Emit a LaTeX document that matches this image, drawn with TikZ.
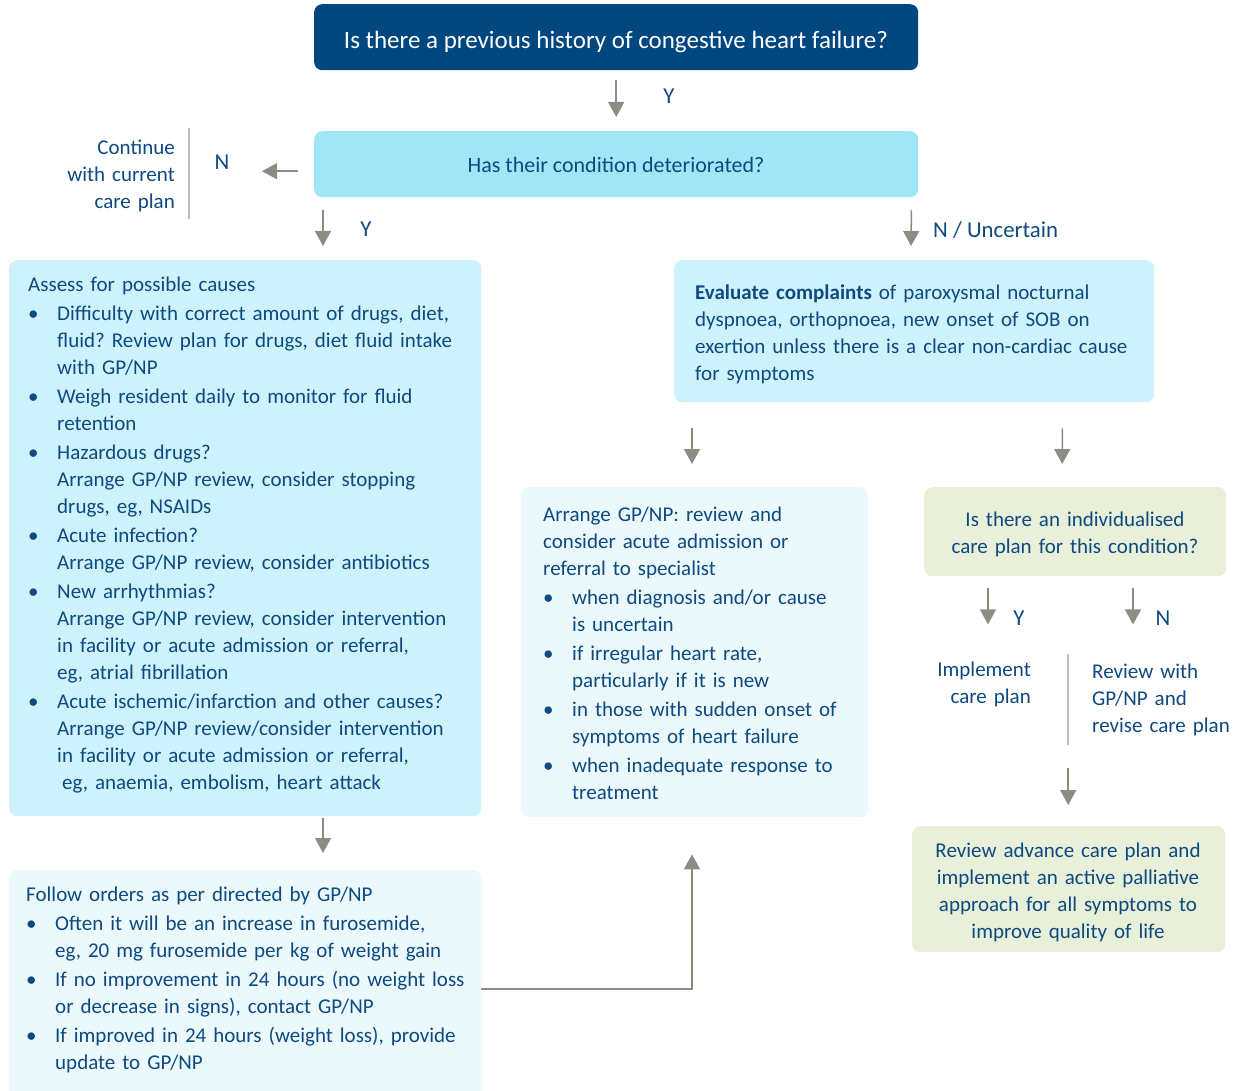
\documentclass[tikz,border=0pt]{standalone}
\usepackage{fontspec}
\setmainfont{Carlito}
\usepackage{enumitem}
\usetikzlibrary{arrows.meta,positioning,calc}

\definecolor{navy}{RGB}{0,71,128}
\definecolor{txtblue}{RGB}{14,73,128}
\definecolor{cyanA}{RGB}{160,230,247}
\definecolor{cyanB}{RGB}{205,242,251}
\definecolor{cyanC}{RGB}{235,249,253}
\definecolor{greenbox}{RGB}{232,240,218}
\definecolor{arrowgray}{RGB}{140,140,130}
\definecolor{rulegray}{RGB}{190,190,185}

\frenchspacing
\newcommand{\bodyfont}{\fontsize{21}{27}\selectfont}
\setlist[itemize]{label=\textbullet, labelindent=0pt, labelwidth=29pt, labelsep=0pt,
  leftmargin=29pt, align=left, topsep=2pt, partopsep=0pt, itemsep=2pt, parsep=0pt}

\tikzset{
  box/.style={rounded corners=8pt, inner sep=0pt, anchor=north west},
  txt/.style={text=txtblue, inner sep=0pt, font=\bodyfont},
  answer/.style={txt, font=\fontsize{22.8}{27}\selectfont},
  arr/.style={arrowgray, line width=1.5pt, -{Triangle[width=16pt,length=15pt]}},
  sepline/.style={rulegray, line width=2pt},
}

\begin{document}
\begin{tikzpicture}[x=1pt,y=-1pt]
\useasboundingbox (0,0) rectangle (1244,1091);

% boxes
\node[box, fill=navy, minimum width=604pt, minimum height=66pt] (hist) at (314,4) {};
\node[box, fill=cyanA, minimum width=604pt, minimum height=66pt] (cond) at (314,131) {};
\node[box, fill=cyanB, minimum width=472pt, minimum height=556pt] (assess) at (9,260) {};
\node[box, fill=cyanB, minimum width=480pt, minimum height=142pt] (eval) at (674,260) {};
\node[box, fill=cyanC, minimum width=347pt, minimum height=330pt] (arrange) at (521,487) {};
\node[box, fill=greenbox, minimum width=302pt, minimum height=89pt] (plan) at (924,487) {};
\node[box, fill=greenbox, minimum width=313pt, minimum height=126pt] (palliative) at (912,826) {};
\node[box, fill=cyanC, minimum width=472pt, minimum height=240pt] (follow) at (9,870) {};

% texts
\node[txt, text=white, font=\fontsize{25}{29}\selectfont, anchor=base] (histtxt) at (616,49)
  {Is there a previous history of congestive heart failure?};
\node[txt, font=\fontsize{22}{27}\selectfont, anchor=base] (condtxt) at (616,173)
  {Has their condition deteriorated?};
\node[txt, anchor=base east, text width=130pt, align=right] (continuetxt) at (175,155)
  {Continue\\with current\\care plan};

\node[txt, anchor=base west, text width=445pt, align=left] (assesstxt) at (28,291) {%
Assess for possible causes
\begin{itemize}
\item Difficulty with correct amount of drugs, diet,\newline fluid? Review plan for drugs, diet fluid intake\newline with GP/NP
\item Weigh resident daily to monitor for fluid\newline retention
\item Hazardous drugs?\newline Arrange GP/NP review, consider stopping\newline drugs, eg, NSAIDs
\item Acute infection?\newline Arrange GP/NP review, consider antibiotics
\item New arrhythmias?\newline Arrange GP/NP review, consider intervention\newline in facility or acute admission or referral,\newline eg, atrial fibrillation
\item Acute ischemic/infarction and other causes?\newline Arrange GP/NP review/consider intervention\newline in facility or acute admission or referral,\newline\hspace*{5pt}eg, anaemia, embolism, heart attack
\end{itemize}};

\node[txt, anchor=base west, text width=455pt, align=left] (evaltxt) at (695,299)
  {\textbf{Evaluate complaints} of paroxysmal nocturnal\\dyspnoea, orthopnoea, new onset of SOB on\\exertion unless there is a clear non-cardiac cause\\for symptoms};

\node[txt, anchor=base west, text width=318pt, align=left] (arrangetxt) at (543,521) {%
Arrange GP/NP: review and\newline consider acute admission or\newline referral to specialist
\begin{itemize}
\item when diagnosis and/or cause\newline is uncertain
\item if irregular heart rate,\newline particularly if it is new
\item in those with sudden onset of\newline symptoms of heart failure
\item when inadequate response to\newline treatment
\end{itemize}};

\node[txt, anchor=base, text width=300pt, align=center] (plantxt) at (1075,526)
  {Is there an individualised\\care plan for this condition?};
\node[txt, anchor=base east, text width=120pt, align=right] (implementtxt) at (1031,676)
  {Implement\\care plan};
\node[txt, anchor=base west, text width=150pt, align=left] (reviewtxt) at (1092,678)
  {Review with\\GP/NP and\\revise care plan};
\node[txt, anchor=base, text width=310pt, align=center] (palliativetxt) at (1068,857)
  {Review advance care plan and\\implement an active palliative\\approach for all symptoms to\\improve quality of life};

\node[txt, anchor=base west, text width=450pt, align=left] (followtxt) at (26,901) {%
Follow orders as per directed by GP/NP
\begin{itemize}
\item Often it will be an increase in furosemide,\newline eg, 20 mg furosemide per kg of weight gain
\item If no improvement in 24 hours (no weight loss\newline or decrease in signs), contact GP/NP
\item If improved in 24 hours (weight loss), provide\newline update to GP/NP
\end{itemize}};

% answer labels
\node[answer, anchor=base] (y1) at (669,104) {Y};
\node[answer, anchor=base] (n1) at (222,170) {N};
\node[answer, anchor=base] (y2) at (366,237) {Y};
\node[answer, anchor=base west] (n2) at (933,238) {N / Uncertain};
\node[answer, anchor=base] (y3) at (1019,625) {Y};
\node[answer, anchor=base] (n3) at (1163,625) {N};

% separators
\draw[sepline] ([xshift=-125pt,yshift=3pt]cond.north west) -- ([xshift=-125pt,yshift=-22pt]cond.south west);
\draw[sepline] ([xshift=-7pt,yshift=-78pt]plan.south) -- ([xshift=-7pt,yshift=-169pt]plan.south);

% connectors
\draw[arr] ([yshift=-10pt]hist.south) -- ([yshift=14pt]cond.north);
\draw[arr] ([xshift=-16pt,yshift=-7pt]cond.west) -- ([xshift=-52pt,yshift=-7pt]cond.west);
\draw[arr] ([xshift=9pt,yshift=-13pt]cond.south west) -- ([xshift=314pt,yshift=14pt]assess.north west);
\draw[arr] ([xshift=-7pt,yshift=-13pt]cond.south east) -- ([xshift=237pt,yshift=14pt]eval.north west);
\draw[arr] ([xshift=18pt,yshift=-26pt]eval.south west) -- ([xshift=171pt,yshift=23pt]arrange.north west);
\draw[arr] ([xshift=-92pt,yshift=-26pt]eval.south east) -- ([xshift=-13pt,yshift=23pt]plan.north);
\draw[arr] ([xshift=64pt,yshift=-12pt]plan.south west) -- ([xshift=64pt,yshift=-48pt]plan.south west);
\draw[arr] ([xshift=209pt,yshift=-12pt]plan.south west) -- ([xshift=209pt,yshift=-48pt]plan.south west);
\draw[arr] ([xshift=-0.5pt,yshift=58pt]palliative.north) -- ([xshift=-0.5pt,yshift=21pt]palliative.north);
\draw[arr] ([xshift=314pt,yshift=-2pt]assess.south west) -- ([xshift=314pt,yshift=17pt]follow.north west);
\draw[arr] ([yshift=1pt]follow.east) -| ([xshift=171pt,yshift=-37pt]arrange.south west);
\end{tikzpicture}
\end{document}
